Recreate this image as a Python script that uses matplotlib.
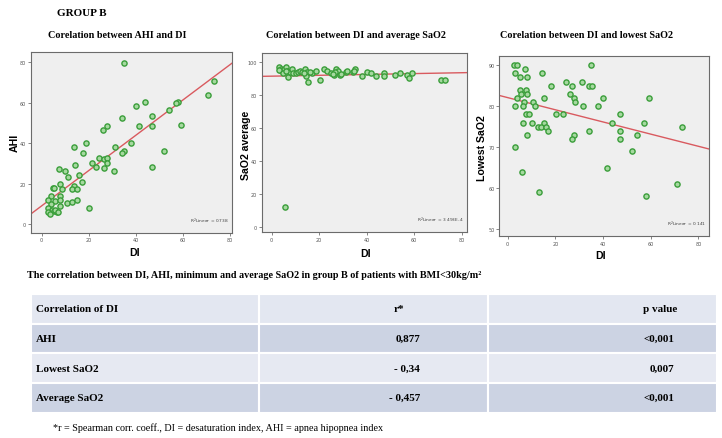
import numpy as np
import matplotlib
matplotlib.use('Agg')
import matplotlib.pyplot as plt

# DI vs AHI (panel 1)
di_ahi = [35.2, 73.2, 71.0, 57.9, 57.2, 54.2, 43.8, 40.0, 47.1, 47.1,
          34.2, 28.0, 26.0, 41.5, 59.3, 52.2, 47.1, 38.0, 31.4, 35.0,
          34.0, 18.9, 13.9, 17.8, 14.2, 24.5, 21.6, 23.1, 26.6, 27.9,
          28.0, 26.6, 30.9, 7.3, 10.1, 11.2, 15.8, 17.1, 7.8, 5.0,
          5.4, 13.8, 12.9, 14.9, 8.8, 3.8, 7.7, 2.8, 5.5, 7.8,
          10.7, 12.9, 14.9, 4.0, 7.8, 20.1, 2.8, 4.5, 5.2, 6.5,
          2.6, 3.6, 5.5, 6.8]
ahi = [79.8, 70.6, 63.6, 60.1, 59.7, 56.4, 60.1, 58.4, 53.4, 48.4,
       52.3, 48.4, 46.3, 48.4, 49.2, 36.3, 28.2, 40.3, 38.0, 36.3,
       35.3, 40.3, 38.3, 35.3, 29.2, 32.9, 30.4, 28.4, 32.2, 32.9,
       30.4, 27.7, 26.2, 27.4, 26.2, 23.6, 24.2, 21.1, 20.1, 18.1,
       18.0, 18.9, 17.3, 17.3, 17.3, 14.1, 14.1, 12.1, 11.3, 12.1,
       10.3, 11.0, 12.1, 10.0, 9.1, 8.0, 8.3, 7.0, 6.5, 6.2,
       6.1, 5.3, 7.1, 6.3]

# DI vs average SaO2 (panel 2)
di_avg = [5.6, 71.2, 73.1, 3.1, 3.4, 3.9, 4.5, 5.3, 5.9, 6.6,
          7.0, 7.6, 8.4, 9.0, 10.1, 11.2, 12.1, 12.9, 14.0, 14.3,
          14.9, 14.3, 15.4, 17.0, 18.8, 20.4, 22.2, 23.3, 24.8, 26.2,
          27.0, 27.8, 26.7, 28.6, 31.2, 31.7, 34.2, 35.1, 34.8, 38.2,
          40.3, 41.8, 43.9, 47.2, 47.2, 51.9, 54.2, 56.9, 57.8, 59.2,
          2.9, 4.8, 6.2, 13.5, 16.3, 26.0, 29.0]
sao2_avg = [12.1, 89.1, 89.1, 97.0, 95.5, 96.0, 95.0, 96.0, 97.0, 95.0,
            91.3, 93.9, 96.0, 93.5, 93.5, 94.3, 95.0, 94.0, 96.0, 93.5,
            94.3, 91.5, 88.3, 93.5, 95.0, 89.3, 96.0, 95.0, 93.5, 92.3,
            96.0, 95.0, 94.0, 92.3, 94.0, 95.0, 94.0, 96.0, 95.0, 91.5,
            94.3, 93.5, 91.5, 93.5, 91.5, 92.3, 93.5, 92.3, 90.3, 93.5,
            95.5, 93.5, 94.5, 93.5, 94.0, 93.0, 93.0]

# DI vs lowest SaO2 (panel 3)
di_low = [2.8, 3.9, 35.0, 3.1, 7.3, 5.0, 8.1, 14.5, 24.6, 27.1,
          31.0, 18.2, 34.3, 35.2, 5.0, 7.5, 5.6, 8.1, 3.9, 15.1,
          26.0, 28.0, 28.3, 40.0, 59.3, 7.0, 10.6, 3.1, 6.4, 11.5,
          31.6, 38.0, 7.8, 8.9, 20.1, 23.2, 47.1, 6.3, 10.2, 15.1,
          43.9, 57.1, 12.9, 14.0, 16.0, 17.1, 73.3, 34.1, 47.1, 8.1,
          28.0, 26.9, 47.1, 54.3, 3.1, 52.2, 41.7, 5.9, 70.9, 13.0,
          58.2]
low_sao2 = [90, 90, 90, 88, 89, 87, 87, 88, 86, 85,
            86, 85, 85, 85, 84, 84, 83, 83, 82, 82,
            83, 82, 81, 82, 82, 81, 81, 80, 80, 80,
            80, 80, 78, 78, 78, 78, 78, 76, 76, 76,
            76, 76, 75, 75, 75, 74, 75, 74, 74, 73,
            73, 72, 72, 73, 70, 69, 65, 64, 61, 59,
            58]

r2_labels = ['R$^2$Linear = 0.738', 'R$^2$Linear = 3.493E-4', 'R$^2$Linear = 0.141']

# table
tbl_header = ['Correlation of DI', 'r*', 'p value']
tbl_rows = ['AHI', 'Lowest SaO2', 'Average SaO2']
tbl_r = ['0,877', '- 0,34', '- 0,457']
tbl_p = ['<0,001', '0,007', '<0,001']

W, H = 722, 439
serif = 'Liberation Serif'
sans = 'Liberation Sans'
pt_col = '#3a9e3a'
pt_face = '#a6d9a0'
line_col = '#d95a5f'


def px_axes(fig, x0, y0, x1, y1):
    # axes from pixel box (top-left origin)
    return fig.add_axes([x0 / W, 1 - y1 / H, (x1 - x0) / W, (y1 - y0) / H])


def scatter_panel(ax, x, y, xlim, ylim, yticks, r2):
    ax.set_facecolor('#efefef')
    ax.scatter(x, y, s=14, facecolor=pt_face, edgecolor=pt_col, linewidth=1.0, zorder=3)
    k, b = np.polyfit(x, y, 1)
    xx = np.array(xlim)
    ax.plot(xx, k * xx + b, color=line_col, lw=1.0, zorder=2)
    ax.set_xlim(xlim)
    ax.set_ylim(ylim)
    ax.set_xticks([0, 20, 40, 60, 80])
    ax.set_yticks(yticks)
    ax.tick_params(labelsize=3.5, length=2, width=0.5, colors='#555555', pad=1.5)
    for s in ax.spines.values():
        s.set_color('#6b6b6b')
        s.set_linewidth(0.8)
    ax.text(0.985, 0.07, r2, transform=ax.transAxes, ha='right', va='center',
            fontsize=3.2, color='#444444')


fig = plt.figure(figsize=(W / 100, H / 100), dpi=100, facecolor='white')

ax1 = px_axes(fig, 31, 53, 232, 233.5)
scatter_panel(ax1, di_ahi, ahi, (-4.5, 81), (-4, 85), [0, 20, 40, 60, 80], r2_labels[0])
ax2 = px_axes(fig, 261.7, 54.3, 466.7, 232.7)
scatter_panel(ax2, di_avg, sao2_avg, (-4.2, 82.1), (-3, 105.5), [0, 20, 40, 60, 80, 100], r2_labels[1])
ax3 = px_axes(fig, 499.3, 56.7, 709.3, 236.7)
scatter_panel(ax3, di_low, low_sao2, (-3.5, 84.6), (48.4, 92.3), [50, 60, 70, 80, 90], r2_labels[2])

# titles and axis labels in pixel positions
def ftext(x, y, s, **kw):
    fig.text(x / W, 1 - y / H, s, **kw)

ftext(57, 13, 'GROUP B', family=serif, weight='bold', fontsize=8, va='center', ha='left')
ftext(117.5, 35, 'Corelation between AHI and DI', family=serif, weight='bold', fontsize=7.3, ha='center', va='center')
ftext(356, 35, 'Corelation between DI and average SaO2', family=serif, weight='bold', fontsize=7.3, ha='center', va='center')
ftext(586, 35, 'Corelation between DI and lowest SaO2', family=serif, weight='bold', fontsize=7.3, ha='center', va='center')

ftext(15, 143, 'AHI', family=sans, weight='bold', fontsize=7.6, rotation=90, ha='center', va='center')
ftext(246, 145, 'SaO2 average', family=sans, weight='bold', fontsize=7.6, rotation=90, ha='center', va='center')
ftext(482, 148, 'Lowest SaO2', family=sans, weight='bold', fontsize=7.6, rotation=90, ha='center', va='center')
for xc, yc in [(135, 253), (366, 254), (601, 256)]:
    ftext(xc, yc, 'DI', family=sans, weight='bold', fontsize=7.6, ha='center', va='center')

ftext(27, 275, 'The correlation between DI, AHI, minimum and average SaO2 in group B of patients with BMI<30kg/m\u00b2',
      family=serif, weight='bold', fontsize=7.3, ha='left', va='center')

# table
tax = px_axes(fig, 31, 295, 717, 413.5)
tax.axis('off')
cells = [tbl_header] + [[n, r, p] for n, r, p in zip(tbl_rows, tbl_r, tbl_p)]
row_cols = ['#e3e7f1', '#ccd3e3', '#e6e9f2', '#ccd3e3']
colours = [[c] * 3 for c in row_cols]
col_w = [(259 - 31) / 686, (488 - 259) / 686, (717 - 488) / 686]
tb = tax.table(cellText=cells, cellColours=colours, colWidths=col_w, bbox=[0, 0, 1, 1])
tb.auto_set_font_size(False)
for (i, j), cell in tb.get_celld().items():
    cell.set_edgecolor('white')
    cell.set_linewidth(1.5)
    t = cell.get_text()
    t.set_fontfamily(serif)
    t.set_fontweight('bold')
    t.set_fontsize(8)
    if j == 0:
        t.set_ha('left')
        cell._loc = 'left'
        cell.PAD = 5 / 228
    elif j == 1:
        cell._loc = 'right'
        t.set_ha('right')
        cell.PAD = (84 if i == 0 else 68) / 229
    else:
        cell._loc = 'right'
        t.set_ha('right')
        cell.PAD = (40 if i == 0 else 43) / 229

ftext(53, 428, '*r = Spearman corr. coeff., DI = desaturation index, AHI = apnea hipopnea index',
      family=serif, fontsize=7.3, ha='left', va='center')

fig.savefig('out.png', dpi=100, facecolor='white')
